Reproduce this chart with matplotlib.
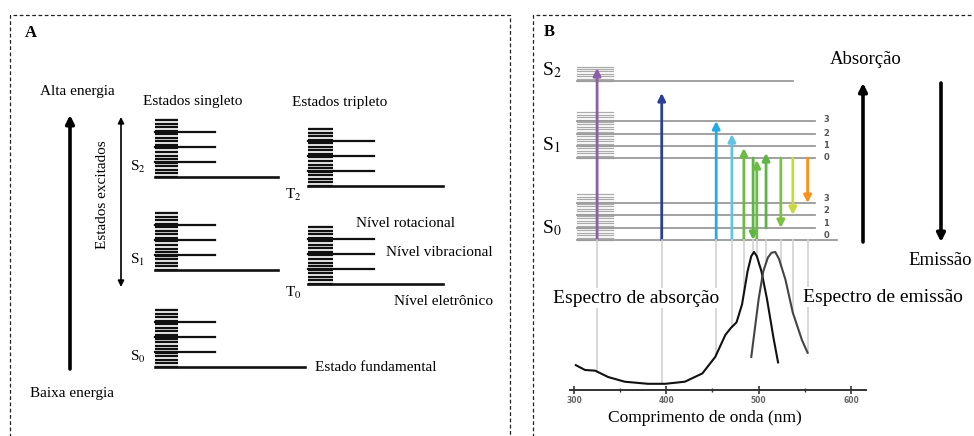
import numpy as np
import matplotlib
matplotlib.use('Agg')
import matplotlib.pyplot as plt

plt.rcParams['font.family'] = ['Liberation Serif', 'DejaVu Serif']
plt.rcParams['mathtext.fontset'] = 'stix'

# --- panel A: Jablonski diagram (energies in arbitrary units)
a_singlets = ['S$_{0}$', 'S$_{1}$', 'S$_{2}$']
a_singlet_E = [0, 97, 190]
a_triplets = ['T$_{0}$', 'T$_{2}$']
a_triplet_E = [83, 181]
a_vib = [15, 30, 45]          # vibrational levels above each electronic level
a_rot_top = 57                # top of rotational band
a_rot_n = 17                  # rotational lines drawn per band

# --- panel B: levels, transitions and spectra
b_states = ['S$_{0}$', 'S$_{1}$', 'S$_{2}$']
b_S0 = [0, 12, 25, 37]
b_S1 = [82, 94, 106, 119]
b_S2 = 159
b_block_lo = [0, 82, 159]
b_block_hi = [47, 128, 175]
vib_labels = ['0', '1', '2', '3']

arr_nm = [325, 395, 454, 471, 484, 494, 498, 508, 524, 537, 553]
arr_from = [0, 0, 0, 0, 0, 82, 0, 12, 82, 82, 82]
arr_to = [172, 147, 119, 106, 92, 0, 80, 87, 12, 25, 37]
arr_col = ['#8b5fa8', '#2d3e96', '#29a9e1', '#62c4e0', '#6cbb47', '#5db545',
           '#6cbb47', '#5db545', '#7cc242', '#c6da3a', '#f6921e']

wl_abs = [302, 312, 323, 337, 355, 380, 399, 420, 439, 453, 464, 470, 476,
          482, 488, 492, 495, 498, 503, 509, 516, 521]
abs_val = [0.18, 0.145, 0.14, 0.094, 0.06, 0.045, 0.045, 0.06, 0.12, 0.24,
           0.40, 0.45, 0.49, 0.62, 0.86, 0.97, 1.0, 0.97, 0.86, 0.66, 0.38, 0.2]
wl_em = [492, 496, 500, 505, 510, 514, 518, 522, 529, 537, 547, 553]
em_val = [0.24, 0.45, 0.66, 0.86, 0.96, 0.995, 1.0, 0.95, 0.80, 0.56, 0.36, 0.27]

PX_NM = 0.9233   # pixels per nm in panel B
X300 = 574       # pixel column of 300 nm

fig = plt.figure(figsize=(9.74, 4.36), dpi=100)

canvas = fig.add_axes([0, 0, 1, 1])
canvas.set_xlim(0, 974)
canvas.set_ylim(436, 0)
canvas.axis('off')

axA = fig.add_axes([0, 0, 1, 1], facecolor='none')
axA.set_xlim(0, 974)
axA.set_ylim(-69, 367)
axA.axis('off')

axB = fig.add_axes([0, 0, 1, 1], facecolor='none')
axB.set_xlim(300 - X300 / PX_NM, 300 + (974 - X300) / PX_NM)
axB.set_ylim(-196, 240)
axB.axis('off')

# dashed panel frames
dash = (0, (3, 2))
canvas.plot([10, 10, 510, 510], [440, 15, 15, 440], ls=dash, lw=0.9, color='#222222')
canvas.plot([533, 533, 980], [440, 15, 15], ls=dash, lw=0.9, color='#222222')

# ---------------- panel A ----------------
def band(ax, x0, x1, xv, xm, E):
    for r in np.linspace(0, a_rot_top, a_rot_n):
        ax.plot([x0, x1], [E + r, E + r], color='#111111', lw=1.65,
                solid_capstyle='butt')
    for v in a_vib:
        ax.plot([x0, xv], [E + v, E + v], color='#111111', lw=1.6)
    ax.plot([x0, xm], [E, E], color='#111111', lw=1.9)

for name, E in zip(a_singlets, a_singlet_E):
    band(axA, 155, 178, 215, 305 if E == 0 else 278, E)
    axA.text(130, E + 10, name, fontsize=11, va='center', ha='left')
for name, E in zip(a_triplets, a_triplet_E):
    band(axA, 308, 333, 374, 443, E)
    axA.text(285, E - 9, name, fontsize=11, va='center', ha='left')

axA.annotate('', xy=(70, 252), xytext=(70, -2),
             arrowprops=dict(arrowstyle='-|>', lw=2.6, color='k',
                             mutation_scale=12, shrinkA=0, shrinkB=0))
axA.annotate('', xy=(121, 250), xytext=(121, 80),
             arrowprops=dict(arrowstyle='<|-|>', lw=1.2, color='k',
                             mutation_scale=9, shrinkA=0, shrinkB=0))

canvas.text(25, 33, 'A', fontsize=12, fontweight='bold', va='center')
canvas.text(77, 91, 'Alta energia', fontsize=11, ha='center', va='center')
canvas.text(30, 393, 'Baixa energia', fontsize=11, ha='left', va='center')
canvas.text(193, 101, 'Estados singleto', fontsize=11, ha='center', va='center')
canvas.text(340, 102, 'Estados tripleto', fontsize=11, ha='center', va='center')
canvas.text(103, 195, 'Estados excitados', fontsize=11, ha='center',
            va='center', rotation=90)
canvas.text(356, 223, 'Nível rotacional', fontsize=11, va='center')
canvas.text(386, 252, 'Nível vibracional', fontsize=11, va='center')
canvas.text(394, 301, 'Nível eletrônico', fontsize=11, va='center')
canvas.text(315, 367, 'Estado fundamental', fontsize=11, va='center')

# ---------------- panel B ----------------
blk0, blk1 = 303, 342
for lo, hi in zip(b_block_lo, b_block_hi):
    for e in np.arange(lo, hi + 0.1, 2.4):
        axB.plot([blk0, blk1], [e, e], color='#ababab', lw=0.9)

for i, e in enumerate(b_S1):
    axB.plot([blk0, 561], [e, e], color='#9a9a9a', lw=1.3)
    axB.text(573, e + 1, vib_labels[i], fontsize=6, fontweight='bold',
             color='#555555', family='DejaVu Sans', ha='center', va='center')
for i, e in enumerate(b_S0):
    axB.plot([blk0, 585 if i == 0 else 561], [e, e], color='#9a9a9a', lw=1.3)
    axB.text(573, e + 5, vib_labels[i], fontsize=6, fontweight='bold',
             color='#555555', family='DejaVu Sans', ha='center', va='center')
axB.plot([blk0, 537], [b_S2, b_S2], color='#9a9a9a', lw=1.3)

for name, e in zip(b_states, [b_S0[1] - 0, b_S1[1] + 1, b_S2 + 11]):
    axB.text(300 + (542 - X300) / PX_NM, e, name, fontsize=14,
             ha='left', va='center')

for nm, e0, e1, c in zip(arr_nm, arr_from, arr_to, arr_col):
    axB.annotate('', xy=(nm, e1), xytext=(nm, e0), zorder=4,
                 arrowprops=dict(arrowstyle='-|>', lw=2.0, color=c,
                                 mutation_scale=11, shrinkA=0, shrinkB=0))

# big absorption / emission arrows
canvas.annotate('', xy=(863, 83), xytext=(863, 242),
                arrowprops=dict(arrowstyle='-|>', lw=2.6, color='k',
                                mutation_scale=12, shrinkA=0, shrinkB=0))
canvas.annotate('', xy=(941, 242), xytext=(941, 83),
                arrowprops=dict(arrowstyle='-|>', lw=2.6, color='k',
                                mutation_scale=12, shrinkA=0, shrinkB=0))
canvas.text(544, 32, 'B', fontsize=12, fontweight='bold', va='center')
canvas.text(866, 60, 'Absorção', fontsize=13.5, ha='center', va='center')
canvas.text(908, 260, 'Emissão', fontsize=13.5, ha='left', va='center')
canvas.text(705, 418, 'Comprimento de onda (nm)', fontsize=12.5,
            ha='center', va='center')

# spectrum axes
x_lo = 300 + (570 - X300) / PX_NM
x_hi = 300 + (866 - X300) / PX_NM
axS = fig.add_axes([570 / 974, 46 / 436, 296 / 974, 150 / 436], facecolor='none')
axS.set_xlim(x_lo, x_hi)
axS.set_ylim(0, 150 / 138)
for s in ['top', 'left', 'right']:
    axS.spines[s].set_visible(False)
axS.spines['bottom'].set_color('#333333')
axS.spines['bottom'].set_linewidth(1.4)
axS.set_yticks([])
axS.set_xticks([300, 400, 500, 600])
axS.set_xticks([350, 450, 550], minor=True)
axS.tick_params(axis='x', which='major', direction='inout', length=6,
                width=1.2, color='#333333', pad=1, labelsize=5.5,
                labelcolor='#666666')
axS.tick_params(axis='x', which='minor', direction='inout', length=3,
                width=1.0, color='#333333')
for t in axS.get_xticklabels():
    t.set_fontweight('bold')
    t.set_family('DejaVu Sans')

# light guide lines from the transitions down to the spectra
for nm in arr_nm:
    lo = max(np.interp(nm, wl_abs, abs_val, left=0, right=0),
             np.interp(nm, wl_em, em_val, left=0, right=0))
    axS.plot([nm, nm], [lo, 150 / 138], color='#d2d2d2', lw=1.2,
             clip_on=False, zorder=1)

axS.plot(wl_abs, abs_val, color='#111111', lw=1.5, zorder=3)
axS.plot(wl_em, em_val, color='#444444', lw=1.5, zorder=3)

bg = dict(facecolor='white', edgecolor='none', pad=1)
axS.text(300 + (553 - X300) / PX_NM, (390 - 298) / 138, 'Espectro de absorção',
         fontsize=14, ha='left', va='center', bbox=bg, zorder=5)
axS.text(300 + (803 - X300) / PX_NM, (390 - 297) / 138, 'Espectro de emissão',
         fontsize=14, ha='left', va='center', bbox=bg, zorder=5, clip_on=False)

fig.savefig('out.png', dpi=100)
